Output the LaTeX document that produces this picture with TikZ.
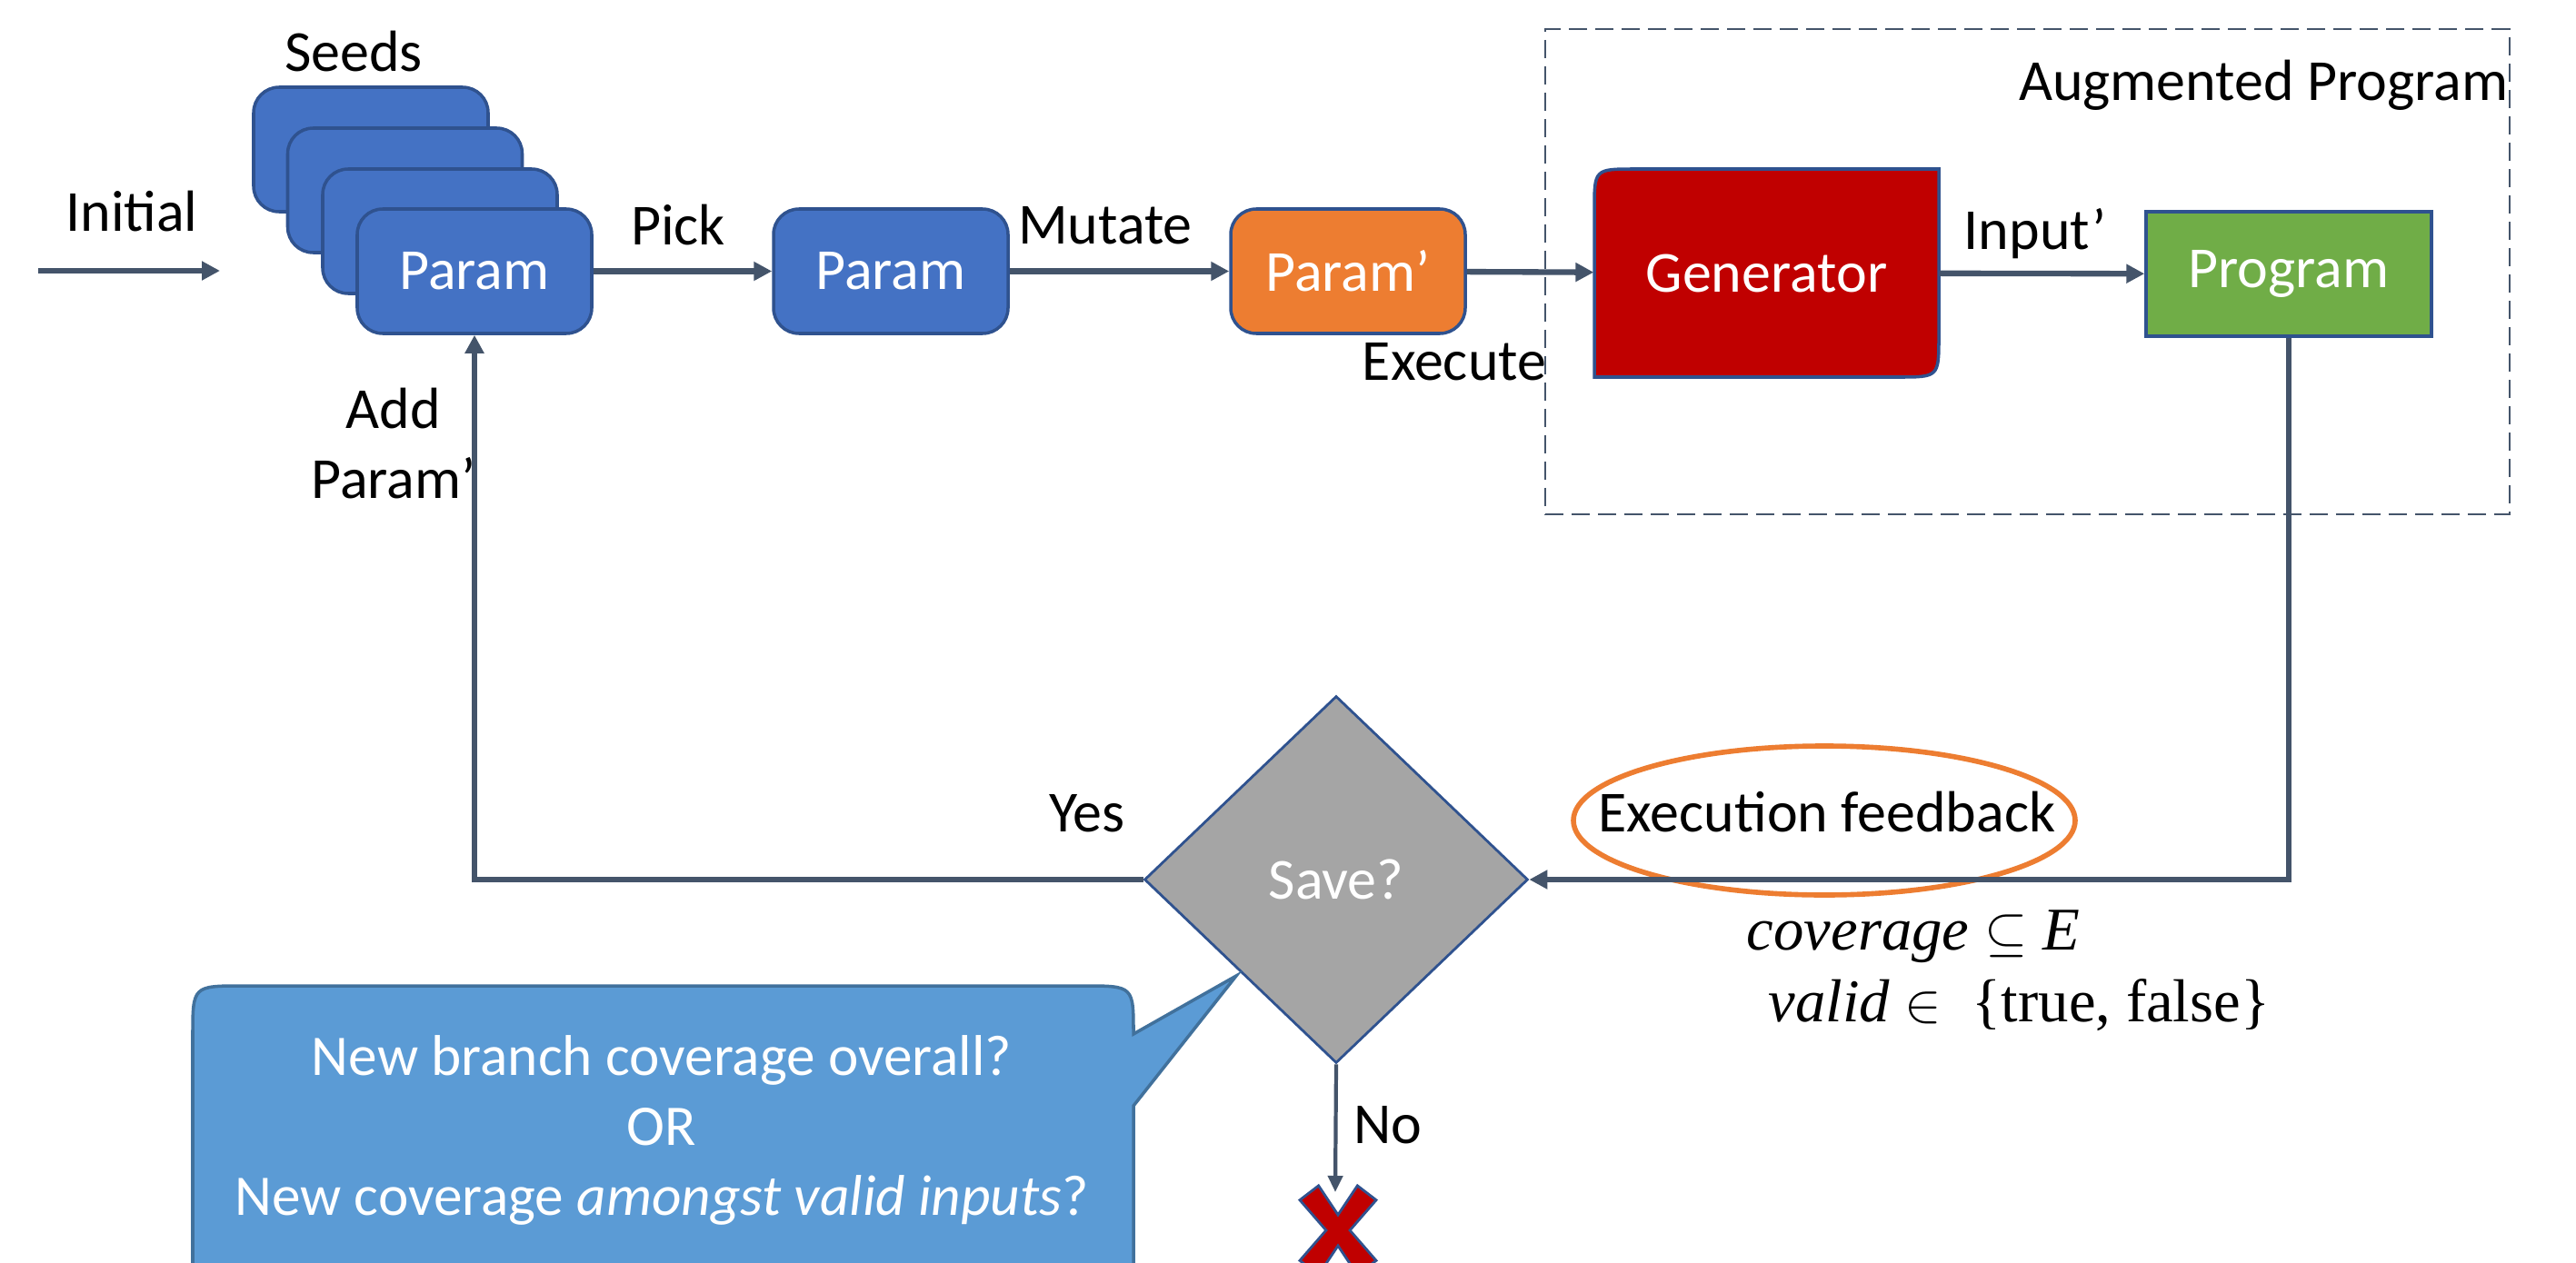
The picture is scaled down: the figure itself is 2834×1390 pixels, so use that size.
\documentclass[tikz,border=0pt]{standalone}
\usepackage{fontspec}
\setmainfont{Carlito}
\newfontfamily\mserif{Liberation Serif}
\usetikzlibrary{arrows.meta,shapes.geometric,calc}
\definecolor{pblue}{HTML}{4472C4}
\definecolor{bord}{HTML}{2F528F}
\definecolor{porange}{HTML}{ED7D31}
\definecolor{gred}{HTML}{C00000}
\definecolor{pgreen}{HTML}{70AD47}
\definecolor{dgray}{HTML}{A5A5A5}
\definecolor{cblue}{HTML}{5B9BD5}
\definecolor{cbord}{HTML}{41719C}
\definecolor{arr}{HTML}{44546A}
\begin{document}
\begin{tikzpicture}[x=0.1mm,y=-0.1mm,
  txt/.style={font=\fontsize{18.2}{22}\selectfont, inner sep=0pt, text=black},
  box/.style={draw=bord, line width=1pt, rounded corners=0.28cm, minimum width=2.58cm, minimum height=1.37cm, inner sep=0pt, text=white, font=\fontsize{18.2}{22}\selectfont},
  flow/.style={draw=arr, line width=1.8pt, -{Triangle[length=0.2cm,width=0.2cm]}},
  mathtxt/.style={inner sep=0pt, anchor=base west, font=\mserif\fontsize{19}{23}\selectfont},
]
\clip (0,0) rectangle (2834,1390);
\fill[white] (0,0) rectangle (2834,1390);

% dashed frame
\node[draw=arr, line width=0.8pt, dash pattern=on 0.2cm off 0.09cm, minimum width=10.61cm, minimum height=5.34cm, inner sep=0pt] (aug) at (2230.5,299) {};
\node[txt, anchor=east] (augl) at (2760,94) {Augmented Program};

% seeds stack
\node[box, fill=pblue] (s1) at (408,164.5) {};
\node[box, fill=pblue] (s2) at (445.5,209.5) {};
\node[box, fill=pblue] (s3) at (484,254.5) {};
\node[box, fill=pblue] (seed) at (522,298.5) {Param};
\node[txt] (seedsl) at (389,57) {Seeds};

\node[box, fill=pblue] (param) at (980,298.5) {Param};
\node[box, fill=porange] (paramp) at (1483,298.5) {Param’};

% generator
\fill[gred, draw=bord, line width=1pt] (1754,415) -- (1754,231) .. controls (1754,186) .. (1799,186) -- (2133,186) -- (2133,370) .. controls (2133,415) .. (2088,415) -- cycle;
\node[minimum width=3.79cm, minimum height=2.29cm, inner sep=0pt, text=white, font=\fontsize{18.2}{22}\selectfont] (gen) at (1943.5,300.5) {Generator};

\node[draw=bord, line width=1pt, fill=pgreen, minimum width=3.14cm, minimum height=1.37cm, inner sep=0pt, text=white, font=\fontsize{18.2}{22}\selectfont] (prog) at (2518,301.5) {Program};

% decision
\node[diamond, draw=bord, line width=0.8pt, fill=dgray, minimum width=4.22cm, minimum height=4.04cm, aspect=1.045, inner sep=0pt, text=white, font=\fontsize{18.2}{22}\selectfont] (save) at (1470,968) {Save?};

% feedback ellipse
\draw[porange, line width=1.6pt] (2007,903) ellipse [x radius=2.76cm, y radius=0.82cm];
\node[txt] (fb) at (2010,894) {Execution feedback};

\node[mathtxt] (cov) at (1921,1045) {\itshape coverage $\subseteq$ E};
\node[mathtxt] (val) at (1945,1124) {\itshape valid $\in$\ \ \upshape\{true, false\}};

% callout
\fill[cblue, draw=cbord, line width=1pt] (267,1085) -- (1192,1085) .. controls (1247,1085) .. (1247,1138) -- (1360,1074) -- (1247,1217) -- (1247,1500) -- (212,1500) -- (212,1140) .. controls (212,1085) .. (267,1085) -- cycle;
\node[inner sep=0pt, align=center, text=white, font=\fontsize{18}{21.9}\selectfont] (call) at (728,1244) {New branch coverage overall?\\OR\\New coverage \textit{amongst valid inputs}?};

% red X
\fill[gred, draw=bord, line width=0.8pt, shift={(1472,1354)}]
  (0,-17) -- (21.4,-49.1) -- (42.0,-33.3) -- (13.1,0) -- (42.0,33.3) -- (21.4,49.1) -- (0,17)
  -- (-21.4,49.1) -- (-42.0,33.3) -- (-13.1,0) -- (-42.0,-33.3) -- (-21.4,-49.1) -- cycle;

% coordinates
\coordinate (i0) at (42,298);
\coordinate (i1) at (242,298);
\coordinate (noend) at (1469,1312);

% connectors
\draw[flow] (i0) -- (i1);
\draw[flow] (seed) -- (param);
\draw[flow] (param) -- (paramp);
\draw[flow] (paramp) -- (gen);
\draw[flow] (gen) -- (prog);
\draw[flow] (prog.south) |- (save.east);
\draw[flow] (save.west) -| (seed.south);
\draw[flow, line width=1.2pt, -{Triangle[length=0.18cm,width=0.16cm]}] (save.south) -- (noend);

% labels
\node[txt] (initl) at (145,233) {Initial};
\node[txt] (pickl) at (746,248) {Pick};
\node[txt] (mutl) at (1216,248) {Mutate};
\node[txt] (exel) at (1600,398) {Execute};
\node[txt] (inpl) at (2239,257) {Input’};
\node[txt, align=center] (addl) at (433,488) {Add\\Param’};
\node[txt] (yesl) at (1196,895) {Yes};
\node[txt] (nol) at (1527,1238) {No};
\end{tikzpicture}
\end{document}
